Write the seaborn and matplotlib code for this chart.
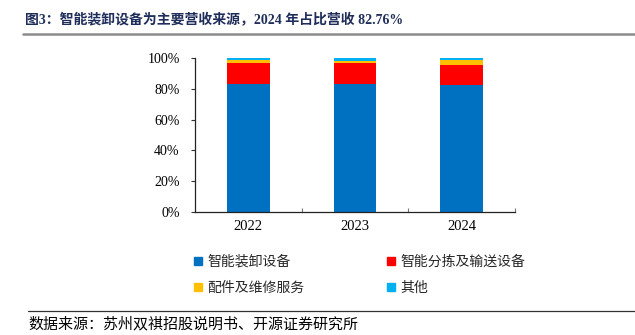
import matplotlib
matplotlib.use("Agg")
import matplotlib.pyplot as plt
from matplotlib.lines import Line2D
import numpy as np
import pandas as pd
import seaborn as sns

# Revenue mix by business line (share of total revenue, %)
years = ["2022", "2023", "2024"]
segments = ["智能装卸设备", "智能分拣及输送设备", "配件及维修服务", "其他"]
loading_equipment = [83.0, 83.2, 82.76]
sorting_conveying = [13.5, 13.6, 12.94]
parts_service = [2.1, 1.5, 2.7]
others = [1.4, 1.7, 1.6]
colors = ["#0070C0", "#FF0000", "#FFC000", "#00B0F0"]
y_ticks = [0, 20, 40, 60, 80, 100]

sns.set_theme(style="white")
FONT = ["Liberation Serif", "Noto Sans CJK SC", "DejaVu Sans"]
plt.rcParams["font.family"] = FONT
plt.rcParams["axes.unicode_minus"] = False

series = [loading_equipment, sorting_conveying, parts_service, others]
cum = np.cumsum(np.array(series), axis=0) / 100.0

fig = plt.figure(figsize=(6.35, 3.35), dpi=100)
ax = fig.add_axes([195 / 635, 1 - 212 / 335, 320 / 635, 154 / 335])

# Stacked bars: draw cumulative totals from the top segment down
for i in range(len(segments) - 1, -1, -1):
    df = pd.DataFrame({"year": years, "value": cum[i]})
    sns.barplot(data=df, x="year", y="value", color=colors[i], width=0.4,
                saturation=1, ax=ax, linewidth=0)

ax.set_ylim(0, 1)
ax.set_xlim(-0.5, 2.5)
ax.set_yticks([t / 100 for t in y_ticks])
ax.set_yticklabels([f"{t}%" for t in y_ticks], fontsize=10)
ax.set_xlabel("")
ax.set_ylabel("")
ax.tick_params(axis="x", length=0, pad=6, labelsize=10.5)
ax.tick_params(axis="y", length=3, width=0.8, direction="out", pad=8,
               left=True, color="#333333")
# small inward ticks at category boundaries
ax.set_xticks([0.5, 1.5, 2.5], minor=True)
ax.tick_params(axis="x", which="minor", length=3, width=0.8,
               direction="in", bottom=True, color="#777777")
for lab in ax.get_xticklabels() + ax.get_yticklabels():
    lab.set_color("#000000")
for s in ["top", "right"]:
    ax.spines[s].set_visible(False)
for s in ["left", "bottom"]:
    ax.spines[s].set_color("#222222")
    ax.spines[s].set_linewidth(0.9)

# Legend laid out row-wise in two columns
handles = [Line2D([], [], marker="s", linestyle="none", markersize=6,
                  markerfacecolor=c, markeredgecolor=c) for c in colors]
order = [0, 2, 1, 3]
leg = fig.legend([handles[i] for i in order], [segments[i] for i in order],
                 ncol=2, frameon=False, loc="upper left",
                 bbox_to_anchor=(188 / 635, 1 - 249 / 335),
                 prop={"family": ["Noto Sans CJK SC"], "size": 10},
                 handlelength=0.6, handletextpad=0.4, columnspacing=5.9,
                 labelspacing=0.85, borderaxespad=0)

# Title and rules
fig.text(25 / 635, 1 - 20 / 335,
         "图3：智能装卸设备为主要营收来源，2024 年占比营收 82.76%",
         fontsize=10, fontweight="bold", color="#1F2D5A",
         family=FONT, va="center", ha="left")
fig.add_artist(Line2D([23 / 635, 1.0], [1 - 34 / 335] * 2,
                      color="#8C8C8C", linewidth=1.8))
fig.add_artist(Line2D([28 / 635, 1.0], [1 - 311 / 335] * 2,
                      color="#333333", linewidth=0.9))
fig.text(28 / 635, 1 - 324 / 335,
         "数据来源：苏州双祺招股说明书、开源证券研究所",
         fontsize=10.8, color="#000000", family=FONT, va="center", ha="left")

fig.savefig("out.png", dpi=100)
